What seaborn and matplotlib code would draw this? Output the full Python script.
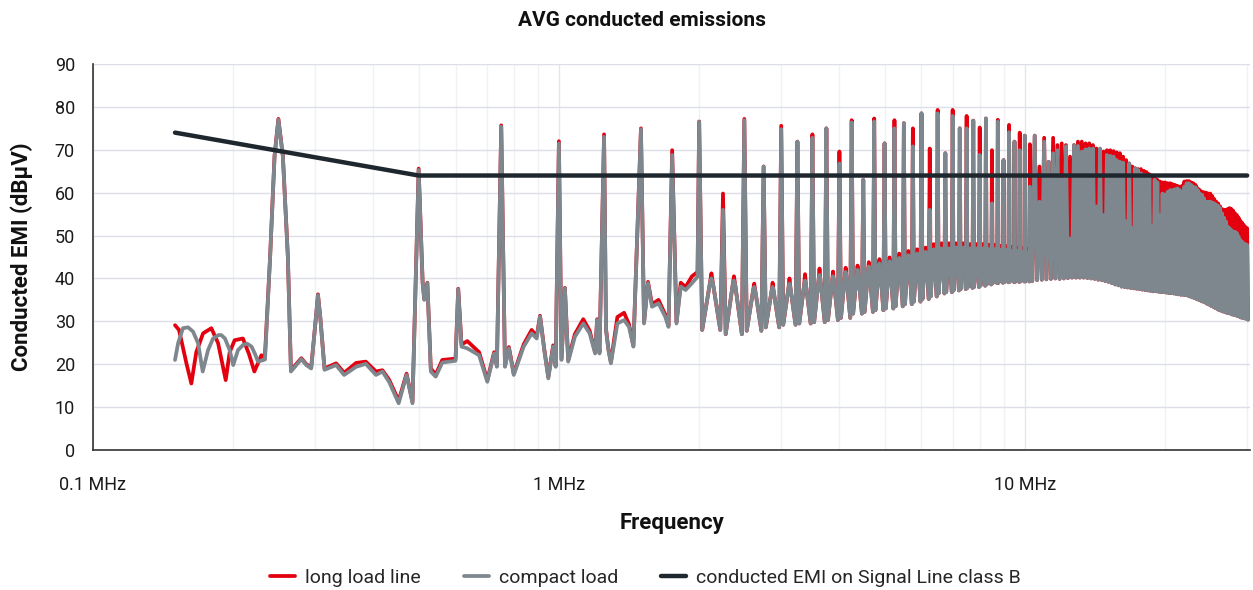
import matplotlib
matplotlib.use("Agg")
import matplotlib.pyplot as plt
from matplotlib.ticker import FixedLocator, FixedFormatter, NullFormatter
import pandas as pd
import seaborn as sns

RED = "#E3000F"
GREY = "#7E878D"
DARK = "#1F272E"

# switching fundamental (MHz), harmonics from 2 MHz upward
F0 = 0.25
harm_k = list(range(8, 121))

# below 2 MHz the traces are read point by point
gray_low_mhz = [0.150, 0.1523, 0.156, 0.160, 0.164, 0.1681, 0.172, 0.1766, 0.181, 0.186,
                0.1885, 0.192, 0.1965, 0.200, 0.2048, 0.210, 0.2142, 0.219, 0.2229, 0.226,
                0.234, 0.240, 0.2453, 0.250, 0.2556, 0.262, 0.266, 0.280, 0.287, 0.294,
                0.301, 0.304, 0.3075, 0.314, 0.3325, 0.346, 0.367, 0.385, 0.405, 0.418,
                0.432, 0.453, 0.471, 0.485, 0.500, 0.510, 0.514, 0.522, 0.531, 0.544,
                0.562, 0.600, 0.608, 0.618, 0.636, 0.674, 0.702, 0.726, 0.736, 0.752,
                0.766, 0.781, 0.800, 0.840, 0.874, 0.896, 0.911, 0.930, 0.949, 0.972,
                0.984, 1.000, 1.013, 1.030, 1.047, 1.082, 1.128, 1.164, 1.196, 1.208,
                1.222, 1.250, 1.262, 1.277, 1.293, 1.335, 1.380, 1.414, 1.445, 1.500,
                1.523, 1.553, 1.584, 1.636, 1.691, 1.719, 1.750, 1.788, 1.826, 1.870,
                1.930, 1.984]
gray_low_db = [21.0, 24.9, 28.4, 28.6, 27.6, 24.9, 18.3, 23.3, 26.0, 26.8,
               26.8, 26.0, 23.3, 19.8, 23.3, 24.5, 24.8, 24.1, 22.3, 20.6,
               21.1, 45.1, 68.4, 77.0, 68.4, 45.0, 18.3, 21.2, 19.8, 19.0,
               31.0, 36.1, 31.0, 18.7, 19.8, 17.5, 19.4, 20.1, 17.5, 18.3,
               15.9, 10.9, 17.5, 10.9, 65.3, 38.9, 35.0, 38.9, 18.3, 17.1,
               20.4, 20.8, 37.5, 24.1, 23.7, 22.1, 15.9, 22.5, 19.4, 75.4,
               19.4, 23.7, 17.5, 24.1, 27.2, 26.0, 31.1, 23.3, 16.7, 24.1,
               19.4, 71.5, 21.0, 37.7, 20.6, 26.4, 29.5, 27.2, 22.5, 30.3,
               22.5, 73.0, 28.0, 23.3, 20.2, 29.5, 30.3, 28.7, 24.1, 74.8,
               29.5, 38.9, 33.4, 34.2, 31.1, 28.7, 68.8, 29.5, 38.1, 37.3,
               38.9, 40.4]

red_low_mhz = [0.150, 0.153, 0.1587, 0.1626, 0.1666, 0.1723, 0.1795, 0.1856, 0.1927, 0.1965,
               0.2014, 0.2098, 0.2163, 0.222, 0.2299, 0.2338, 0.240, 0.2453, 0.250, 0.2556,
               0.262, 0.266, 0.280, 0.287, 0.294, 0.301, 0.304, 0.3075, 0.314, 0.3325,
               0.346, 0.367, 0.385, 0.405, 0.418, 0.432, 0.453, 0.471, 0.485, 0.500,
               0.510, 0.514, 0.522, 0.531, 0.544, 0.562, 0.600, 0.608, 0.618, 0.636,
               0.674, 0.702, 0.726, 0.736, 0.752, 0.766, 0.781, 0.800, 0.840, 0.874,
               0.896, 0.911, 0.930, 0.949, 0.972, 0.984, 1.000, 1.013, 1.030, 1.047,
               1.082, 1.128, 1.164, 1.196, 1.208, 1.222, 1.250, 1.262, 1.277, 1.293,
               1.335, 1.380, 1.414, 1.445, 1.500, 1.523, 1.553, 1.584, 1.636, 1.691,
               1.719, 1.750, 1.788, 1.826, 1.870, 1.930, 1.984]
red_low_db = [29.1, 28.0, 20.2, 15.5, 22.8, 27.2, 28.4, 24.9, 16.3, 22.8,
              25.6, 26.0, 22.3, 18.3, 22.1, 21.5, 45.1, 68.6, 77.2, 68.6,
              45.0, 18.6, 21.4, 20.0, 19.2, 31.0, 36.3, 31.0, 19.0, 20.2,
              18.0, 20.3, 20.6, 18.3, 18.6, 16.4, 11.5, 17.8, 11.2, 65.6,
              39.0, 35.2, 39.0, 19.0, 17.6, 21.0, 21.3, 37.6, 24.6, 25.4,
              22.8, 16.3, 22.8, 19.6, 75.7, 19.6, 24.0, 17.8, 24.6, 28.0,
              26.5, 31.3, 23.6, 17.0, 24.4, 19.6, 72.0, 21.2, 37.8, 21.0,
              27.0, 30.5, 27.8, 22.8, 30.5, 22.8, 73.6, 28.3, 23.6, 20.5,
              31.0, 32.0, 29.3, 24.3, 75.0, 29.8, 39.2, 34.0, 35.0, 31.6,
              29.0, 69.9, 29.8, 39.0, 38.0, 40.5, 41.5]

# harmonic peaks, k = 8 .. 120
peak_gray = [76.5, 56.0, 76.9, 66.1, 74.8, 71.9, 72.8, 75.0, 66.8, 76.4,
             63.0, 76.6, 71.5, 75.0, 76.2, 70.8, 78.5, 56.0, 78.5, 69.2,
             77.9, 75.0, 75.0, 76.8, 68.8, 77.3, 57.5, 76.6, 67.6, 74.1,
             71.9, 69.9, 73.3, 61.4, 73.3, 57.9, 71.9, 67.2, 69.2, 69.9,
             63.3, 70.8, 49.3, 71.1, 70.9, 69.6, 70.1, 70.3, 70.3, 56.8,
             70.3, 54.8, 68.8, 68.6, 68.4, 67.6, 67.2, 67.0, 53.3, 66.8,
             51.7, 65.7, 65.3, 64.5, 64.1, 63.7, 63.5, 52.1, 63.0, 62.4,
             54.8, 59.8, 59.5, 60.2, 60.6, 60.6, 60.8, 61.0, 60.6, 60.2,
             61.4, 62.2, 62.2, 61.8, 61.4, 61.2, 60.6, 59.8, 59.5, 58.7,
             57.9, 57.9, 57.9, 57.7, 57.5, 57.2, 56.9, 56.4, 55.2, 54.2,
             53.3, 52.1, 51.7, 51.3, 50.9, 50.9, 50.6, 49.8, 49.0, 48.6,
             48.2, 48.0, 47.8]
peak_red = [76.6, 59.8, 77.2, 66.1, 75.6, 71.9, 73.6, 75.0, 69.6, 76.9,
            63.0, 77.3, 71.5, 76.9, 76.2, 75.0, 78.5, 70.3, 79.3, 69.2,
            79.3, 75.0, 77.9, 76.8, 75.2, 77.3, 69.9, 77.0, 67.6, 75.8,
            71.9, 74.0, 73.3, 71.3, 73.3, 66.1, 72.8, 67.2, 72.8, 71.1,
            71.5, 71.1, 68.4, 71.1, 71.9, 71.9, 71.5, 71.5, 71.1, 70.3,
            70.1, 69.6, 69.9, 69.9, 69.7, 69.4, 69.2, 68.4, 67.6, 66.8,
            66.1, 65.7, 65.5, 65.5, 65.1, 64.8, 64.3, 64.0, 63.5, 63.0,
            62.6, 62.4, 62.4, 62.2, 62.2, 62.0, 61.8, 61.6, 61.4, 61.6,
            62.6, 62.7, 62.7, 62.4, 62.2, 61.8, 61.0, 60.6, 60.2, 60.1,
            60.0, 59.8, 59.8, 59.2, 58.5, 57.9, 57.5, 56.8, 56.2, 56.0,
            56.0, 56.2, 56.4, 56.2, 55.8, 55.2, 54.8, 54.2, 53.5, 53.0,
            52.5, 52.0, 51.7]

# noise floor between harmonics, k = 8 .. 120 (both traces)
floor_db = [28.0, 27.0, 27.8, 28.6, 29.2, 29.5, 29.8, 30.3, 30.8, 31.8,
            32.2, 32.6, 33.0, 33.5, 34.0, 34.6, 35.2, 35.8, 36.5, 36.8,
            37.2, 37.5, 37.8, 38.0, 38.3, 38.6, 38.9, 39.0, 39.1, 39.2,
            39.2, 39.3, 39.3, 39.4, 39.6, 39.7, 39.8, 39.9, 40.0, 39.9,
            40.0, 40.1, 40.2, 40.2, 40.2, 40.2, 40.1, 40.0, 39.9, 39.7,
            39.6, 39.4, 39.2, 38.9, 38.6, 38.4, 38.1, 38.0, 37.9, 37.8,
            37.7, 37.6, 37.5, 37.4, 37.3, 37.2, 37.1, 37.0, 37.0, 36.9,
            36.8, 36.8, 36.7, 36.6, 36.6, 36.5, 36.4, 36.3, 36.2, 36.2,
            36.1, 36.0, 35.8, 35.6, 35.4, 35.2, 35.0, 34.8, 34.6, 34.4,
            34.1, 33.9, 33.6, 33.4, 33.1, 32.9, 32.6, 32.5, 32.3, 32.2,
            32.0, 31.9, 31.8, 31.6, 31.5, 31.4, 31.2, 31.1, 30.9, 30.8,
            30.7, 30.6, 30.4]

# shoulders between harmonics, k = 8 .. 40 (shared by both traces)
shoulder_db = [39.0, 38.5, 37.0, 37.0, 37.8, 38.5, 39.8, 39.5, 40.5, 41.0,
               41.8, 42.5, 43.0, 43.8, 44.4, 44.8, 45.2, 45.8, 46.0, 46.0,
               46.2, 46.2, 46.0, 46.0, 46.0, 45.8, 45.8, 45.7, 45.6, 45.4,
               45.3, 45.2, 45.0]

# half-harmonic humps, k = 8 .. 40
hump_gray = [40.0, 39.5, 38.0, 38.0, 38.8, 39.5, 40.8, 40.5, 41.5, 42.0,
             42.8, 43.5, 44.0, 44.8, 45.4, 45.8, 46.2, 46.8, 47.0, 47.0,
             47.2, 47.2, 47.0, 47.0, 47.0, 46.8, 46.8, 46.7, 46.6, 46.4,
             46.3, 46.2, 46.0]
hump_red = [41.2, 40.5, 38.8, 39.0, 40.0, 41.0, 42.3, 41.6, 42.5, 43.0,
            43.8, 44.5, 44.9, 45.8, 46.4, 46.8, 47.2, 48.0, 48.2, 48.2,
            48.2, 48.2, 48.0, 48.0, 48.0, 47.8, 47.8, 47.6, 47.5, 47.3,
            47.1, 47.0, 46.8]

limit_mhz = [0.15, 0.5, 30.0]
limit_db = [74, 64, 64]


def spectrum(low_mhz, low_db, peaks, humps):
    mhz, db = list(low_mhz), list(low_db)
    for i, k in enumerate(harm_k):
        fk = k * F0
        mhz.append(fk)
        db.append(peaks[i])
        if i < len(humps):
            mhz += [fk + 0.03, fk + 0.11, fk + F0 / 2, fk + F0 - 0.11, fk + F0 - 0.03]
            db += [floor_db[i], shoulder_db[i], humps[i], shoulder_db[i], floor_db[i]]
        else:
            mhz.append(fk + F0 / 2)
            db.append(floor_db[i])
    return pd.DataFrame({"freq": mhz, "level": db})


red_df = spectrum(red_low_mhz, red_low_db, peak_red, hump_red)
gray_df = spectrum(gray_low_mhz, gray_low_db, peak_gray, hump_gray)
limit_df = pd.DataFrame({"freq": limit_mhz, "level": limit_db})

sns.set_theme(style="white")
plt.rcParams["font.family"] = ["Roboto", "DejaVu Sans"]

fig, ax = plt.subplots(figsize=(12.53, 5.90), dpi=100)
fig.subplots_adjust(left=0.0742, right=0.998, top=0.8915, bottom=0.2373)
ax.set_xscale("log")

sns.lineplot(data=red_df, x="freq", y="level", sort=False, estimator=None,
             color=RED, linewidth=2.7, ax=ax, label="long load line")
sns.lineplot(data=gray_df, x="freq", y="level", sort=False, estimator=None,
             color=GREY, linewidth=2.7, ax=ax, label="compact load")
sns.lineplot(data=limit_df, x="freq", y="level", sort=False, estimator=None,
             color=DARK, linewidth=3.2, ax=ax,
             label="conducted EMI on Signal Line class B")

ax.set_xlim(0.1, 30.5)
ax.set_ylim(0, 90)
ax.set_yticks(range(0, 91, 10))
ax.xaxis.set_major_locator(FixedLocator([0.1, 1, 10]))
ax.xaxis.set_major_formatter(FixedFormatter(["0.1 MHz", "1 MHz", "10 MHz"]))
ax.xaxis.set_minor_locator(FixedLocator([0.2, 0.3, 0.4, 0.5, 0.6, 0.7, 0.8, 0.9,
                                         2, 3, 4, 5, 6, 7, 8, 9, 20, 30]))
ax.xaxis.set_minor_formatter(NullFormatter())

ax.grid(True, axis="y", color="#DCE0E6", linewidth=1.0)
ax.grid(True, axis="x", which="major", color="#E3E6EA", linewidth=1.0)
ax.grid(True, axis="x", which="minor", color="#EFF1F4", linewidth=1.0)
ax.set_axisbelow(True)

for side in ["top", "right"]:
    ax.spines[side].set_visible(False)
for side in ["left", "bottom"]:
    ax.spines[side].set_color("#333333")
    ax.spines[side].set_linewidth(1.2)

ax.tick_params(axis="x", which="major", direction="out", length=7, width=1.2,
               color="#333333", labelsize=13, pad=12, labelcolor="#1a1a1a")
ax.tick_params(axis="x", which="minor", length=0)
ax.tick_params(axis="y", direction="out", length=5, width=1.2,
               color="#333333", labelsize=13, pad=8, labelcolor="#1a1a1a")

ax.set_xlabel("Frequency", fontsize=16, fontweight="bold", color="#111111")
ax.set_ylabel("Conducted EMI (dBµV)", fontsize=16, fontweight="bold", color="#111111")
ax.xaxis.set_label_coords(0.5, -0.16)
ax.yaxis.set_label_coords(-0.052, 0.5)

fig.text(0.512, 0.965, "AVG conducted emissions", ha="center", va="center",
         fontsize=15, fontweight="semibold", color="#111111")

handles, labels = ax.get_legend_handles_labels()
ax.legend_.remove()
fig.legend(handles, labels, loc="center", bbox_to_anchor=(0.515, 0.021), ncol=3,
           frameon=False, fontsize=14, handlelength=1.3, columnspacing=2.2,
           handletextpad=0.5)

fig.savefig("out.png", dpi=100)
